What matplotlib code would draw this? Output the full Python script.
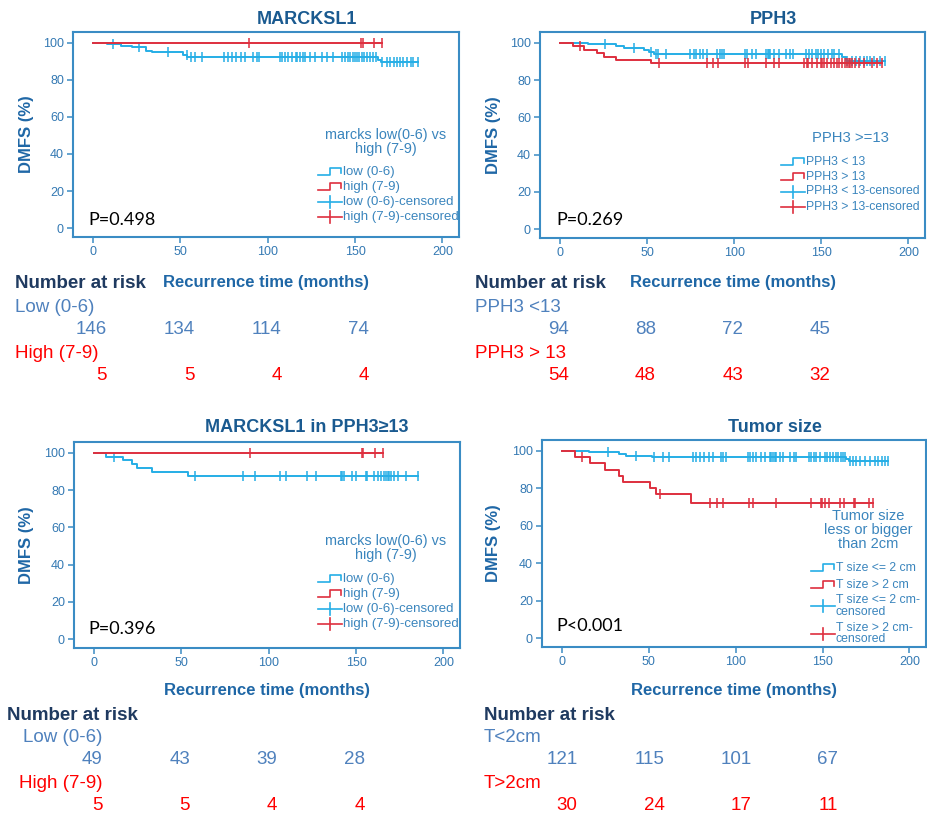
import matplotlib.pyplot as plt
import numpy as np
from matplotlib.lines import Line2D
from matplotlib.transforms import blended_transform_factory

plt.rcParams['font.family'] = ['Liberation Sans', 'DejaVu Sans']

# ---- data (months, DMFS %) ----
risk_times = [0, 50, 100, 150]

# MARCKSL1
m_low_times = [8, 16, 22, 30.5, 33.5, 51.5, 54, 163.3, 165]
m_low_surv = [99.3, 98.4, 97.5, 95.7, 94.8, 93.5, 92.1, 90.8, 89.6]
m_low_cens = [11.4, 26.2, 43, 53.5, 56.3, 58.3, 62.1, 75, 77.5, 79.7, 82, 84.6, 87, 91.7,
              93.6, 95, 107, 108.3, 109.8, 111.7, 114, 116, 117, 118.6, 120, 121.3, 124,
              127, 131, 133.7, 137.5, 142.3, 144, 145.8, 147, 149, 150, 151, 152.3, 153.8,
              155.3, 156.6, 158.6, 160.5, 161.8, 165.2, 168, 170, 172, 174, 175.7, 177.7,
              180, 182, 183.4, 186.3]
m_high_times = []
m_high_surv = []
m_high_cens = [89, 153.5, 154.5, 161, 165.6]
m_risk_low = [146, 134, 114, 74]
m_risk_high = [5, 5, 4, 4]

# PPH3
p_lt_times = [16, 32, 37, 48, 51, 54, 162, 164]
p_lt_surv = [99.3, 98.4, 97.2, 96.2, 95.3, 93.8, 92.2, 90.3]
p_lt_cens = [25.6, 42.6, 52.1, 55, 56, 60.6, 74.8, 76.7, 78.2, 80.5, 82, 84.3, 90.3, 91.8,
             92.8, 94.1, 106.1, 107.4, 110.4, 112.7, 118.4, 119.3, 119.9, 120.6, 123.1,
             125.9, 129.7, 132, 133.5, 141.1, 143, 144.9, 146.8, 148.3, 149.6, 151.5, 154,
             155.9, 157.2, 160.4, 164.8, 167.6, 169.9, 172.3, 174.2, 176.1, 178, 180.5,
             183.7, 186.5]
p_gt_times = [7.6, 14, 21, 25, 32, 52]
p_gt_surv = [98.1, 96.3, 94.4, 92.6, 90.7, 88.9]
p_gt_cens = [11.4, 56.8, 84.3, 87.7, 90.9, 106.1, 108, 118.4, 123.1, 125.6, 140.2, 141.5,
             142.6, 144.9, 147.7, 149.6, 150.6, 151.5, 153.4, 155.3, 157.2, 159.1, 160.4,
             162, 163.8, 164.8, 165.7, 166.7, 167.6, 169.5, 171.4, 174.2, 178.9, 181.8, 184.7]
p_risk_lt = [94, 88, 72, 45]
p_risk_gt = [54, 48, 43, 32]

# MARCKSL1 in PPH3>=13
s_low_times = [7, 16.5, 21.7, 24.5, 33, 54]
s_low_surv = [98.0, 95.9, 93.9, 91.8, 89.8, 87.7]
s_low_cens = [11.5, 57.5, 85.1, 92.3, 106.7, 109.6, 122, 126.8, 141.2, 142.1, 143.1, 147.9,
              149.8, 155.5, 156.5, 160.3, 162.3, 164.2, 166.1, 167, 168, 169, 169.9, 171.8,
              173.8, 178.5, 185.2]
s_high_times = []
s_high_surv = []
s_high_cens = [89, 153.3, 154.1, 161, 165.6]
s_risk_low = [49, 43, 39, 28]
s_risk_high = [5, 5, 4, 4]

# Tumor size
t_small_times = [15.7, 33, 37, 52, 163.7, 165]
t_small_surv = [99.2, 98.3, 97.5, 96.7, 95.6, 94.4]
t_small_cens = [26.3, 42.7, 53.2, 58, 61.8, 75.3, 77.2, 79.5, 82, 84.5, 86.8, 91.6, 92.9,
                94.5, 106.9, 108.3, 109.9, 111.8, 114.7, 116.6, 119.5, 120.5, 121.4, 122.4,
                123.3, 125.3, 127.2, 131, 133.3, 134.9, 142.2, 143.5, 144.9, 146, 148.3,
                151.2, 152.5, 154.1, 156, 157.5, 158.9, 160.8, 161.8, 162.7, 165.6, 167.5,
                169.5, 171.8, 174.3, 177.1, 180, 181.9, 183.9, 185.8, 187.7]
t_large_times = [7.7, 16, 24.5, 33, 35, 50.5, 54, 74.4]
t_large_surv = [96.7, 93.3, 90.0, 86.7, 83.3, 80.0, 76.7, 72.4]
t_large_cens = [11.5, 56.2, 85.3, 89.2, 92.6, 107.6, 109.9, 123, 143.5, 148.9, 149.9, 151.2,
                153.7, 160.2, 162.1, 168.1, 168.5, 176.8, 179.1]
t_risk_small = [121, 115, 101, 67]
t_risk_large = [30, 24, 17, 11]

# ---- colours ----
BLUE = '#25aee6'
RED = '#de2f3e'
FRAME = '#3a8cc4'
TICKC = '#3479b3'
TITLEC = '#1a5a90'
LABELC = '#1f67a6'
LEGC = '#3a85bd'
NAVY = '#1f3a60'
RISK_BLUE = '#4f81bd'
RISK_RED = '#ff0000'

W, H = 927, 816
fig = plt.figure(figsize=(W / 100, H / 100), dpi=100)


def fx(px):
    return px / W


def fy(py):
    return 1 - py / H


def km(ax, times, surv, cens, color):
    times = np.asarray(times, float)
    surv = np.asarray(surv, float)
    cens = np.asarray(cens, float)
    levels = np.concatenate([[100], surv])
    end = max(cens.max(), times.max() if len(times) else 0)
    t = np.concatenate([[0], times, [end]])
    s = np.concatenate([levels, [levels[-1]]])
    ax.step(t, s, where='post', color=color, lw=1.4)
    s_c = levels[np.searchsorted(times, cens, side='right')]
    ax.plot(cens, s_c, ls='none', marker='|', ms=7.5, mew=1.1, color=color)


def legend(title, title_xy, title_fs, tx, ys, labels, fs):
    fig.text(fx(title_xy[0]), fy(title_xy[1]), title, ha='center', va='center',
             fontsize=title_fs, color=LEGC, linespacing=1.0)
    kinds = ['step', 'step', 'cens', 'cens']
    cols = [BLUE, RED, BLUE, RED]
    for lab, y, kind, col in zip(labels, ys, kinds, cols):
        fig.text(fx(tx), fy(y), lab, ha='left', va='center', fontsize=fs,
                 color=LEGC, linespacing=0.95)
        x0 = tx - 25
        if kind == 'step':
            xs = [x0, x0 + 12, x0 + 12, x0 + 23, x0 + 23]
            yy = [y + 3, y + 3, y - 4, y - 4, y + 1]
            fig.add_artist(Line2D([fx(v) for v in xs], [fy(v) for v in yy],
                                  color=col, lw=1.2))
        else:
            fig.add_artist(Line2D([fx(x0), fx(x0 + 24)], [fy(y), fy(y)], color=col, lw=1.2))
            fig.add_artist(Line2D([fx(x0 + 12)] * 2, [fy(y - 6), fy(y + 6)], color=col, lw=1.2))


panels = [
    dict(rect=(73, 32, 459, 237), title='MARCKSL1', title_xy=(307, 20),
         curves=[(m_low_times, m_low_surv, m_low_cens, BLUE),
                 (m_high_times, m_high_surv, m_high_cens, RED)],
         p='P=0.498', p_xy=(88, 220), ylab_x=27, xlab_y=282,
         leg=dict(title='marcks low(0-6) vs\nhigh (7-9)', title_xy=(386, 141.5), title_fs=10.4,
                  tx=343, ys=[172, 187, 202, 217], fs=9.5,
                  labels=['low (0-6)', 'high (7-9)', 'low (0-6)-censored',
                          'high (7-9)-censored']),
         risk=dict(head=(15, 284), g1=('Low (0-6)', 15, 308), n1=(m_risk_low, 330),
                   g2=('High (7-9)', 15, 354), n2=(m_risk_high, 376), off=8)),
    dict(rect=(540, 32, 925, 238), title='PPH3', title_xy=(773, 20),
         curves=[(p_lt_times, p_lt_surv, p_lt_cens, BLUE),
                 (p_gt_times, p_gt_surv, p_gt_cens, RED)],
         p='P=0.269', p_xy=(556, 220), ylab_x=493, xlab_y=282,
         leg=dict(title='PPH3 >=13', title_xy=(850, 138), title_fs=10.7,
                  tx=806, ys=[162, 176.5, 191.5, 207], fs=8.8,
                  labels=['PPH3 < 13', 'PPH3 > 13', 'PPH3 < 13-censored',
                          'PPH3 > 13-censored']),
         risk=dict(head=(475, 284), g1=('PPH3 <13', 475, 308), n1=(p_risk_lt, 330),
                   g2=('PPH3 > 13', 475, 354), n2=(p_risk_gt, 376), off=5)),
    dict(rect=(74, 442, 460, 648), title='MARCKSL1 in PPH3\u226513', title_xy=(307, 428),
         curves=[(s_low_times, s_low_surv, s_low_cens, BLUE),
                 (s_high_times, s_high_surv, s_high_cens, RED)],
         p='P=0.396', p_xy=(88, 629), ylab_x=27, xlab_y=691,
         leg=dict(title='marcks low(0-6) vs\nhigh (7-9)', title_xy=(386, 547.5), title_fs=10.4,
                  tx=343, ys=[579, 594, 609, 624], fs=9.5,
                  labels=['low (0-6)', 'high (7-9)', 'low (0-6)-censored',
                          'high (7-9)-censored']),
         risk=dict(head=(7, 715), g1=('Low (0-6)', 23, 738), n1=(s_risk_low, 760),
                   g2=('High (7-9)', 19, 783), n2=(s_risk_high, 806), off=5)),
    dict(rect=(542, 440, 926, 647), title='Tumor size', title_xy=(775, 427),
         curves=[(t_small_times, t_small_surv, t_small_cens, BLUE),
                 (t_large_times, t_large_surv, t_large_cens, RED)],
         p='P<0.001', p_xy=(556, 626), ylab_x=493, xlab_y=691,
         leg=dict(title='Tumor size\nless or bigger\nthan 2cm', title_xy=(868, 530),
                  title_fs=10.5, tx=836, ys=[568, 585, 606, 633.5], fs=8.8,
                  labels=['T size <= 2 cm', 'T size > 2 cm', 'T size <= 2 cm-\ncensored',
                          'T size > 2 cm-\ncensored']),
         risk=dict(head=(484, 715), g1=('T<2cm', 484, 738), n1=(t_risk_small, 760),
                   g2=('T>2cm', 484, 783), n2=(t_risk_large, 806), off=9)),
]

for pn in panels:
    l, t, r, b = pn['rect']
    ax = fig.add_axes([fx(l), fy(b), (r - l) / W, (b - t) / H])
    for times, surv, cens, col in pn['curves']:
        km(ax, times, surv, cens, col)
    ax.set_xlim(-11.5, 209.5)
    ax.set_ylim(-4.8, 105.8)
    ax.set_xticks([0, 50, 100, 150, 200])
    ax.set_yticks([0, 20, 40, 60, 80, 100])
    for sp in ax.spines.values():
        sp.set_color(FRAME)
        sp.set_linewidth(1.5)
    ax.tick_params(colors=FRAME, labelcolor=TICKC, labelsize=9, length=4.5, width=1.1, pad=2)

    ax.set_ylabel('DMFS (%)', fontsize=12, fontweight='bold', color=LABELC)
    ax.yaxis.set_label_coords(fx(pn['ylab_x']), 0.5 * (fy(t) + fy(b)), transform=fig.transFigure)
    ax.yaxis.label.set_va('center')
    ax.set_xlabel('Recurrence time (months)', fontsize=12, fontweight='bold', color=LABELC)
    ax.xaxis.set_label_coords(0.5 * (fx(l) + fx(r)), fy(pn['xlab_y']), transform=fig.transFigure)
    ax.xaxis.label.set_va('center')

    fig.text(fx(pn['title_xy'][0]), fy(pn['title_xy'][1]), pn['title'], ha='center',
             va='center', fontsize=13, fontweight='bold', color=TITLEC)
    fig.text(fx(pn['p_xy'][0]), fy(pn['p_xy'][1]), pn['p'], ha='left', va='center',
             fontsize=13, color='black', family=['Lato', 'DejaVu Sans'])

    legend(**pn['leg'])

    rk = pn['risk']
    fig.text(fx(rk['head'][0]), fy(rk['head'][1]), 'Number at risk', ha='left', va='center',
             fontsize=13.5, fontweight='bold', color=NAVY)
    trans = blended_transform_factory(ax.transData, fig.transFigure)
    for (gname, gx, gy), (nums, ny), col in [(rk['g1'], rk['n1'], RISK_BLUE),
                                             (rk['g2'], rk['n2'], RISK_RED)]:
        fig.text(fx(gx), fy(gy), gname, ha='left', va='center', fontsize=13.5, color=col)
        for tm, n in zip(risk_times, nums):
            ax.text(tm + rk['off'], fy(ny), str(n), transform=trans, ha='right', va='center',
                    fontsize=13.5, color=col, clip_on=False)

fig.savefig('out.png', dpi=100, facecolor='white')
